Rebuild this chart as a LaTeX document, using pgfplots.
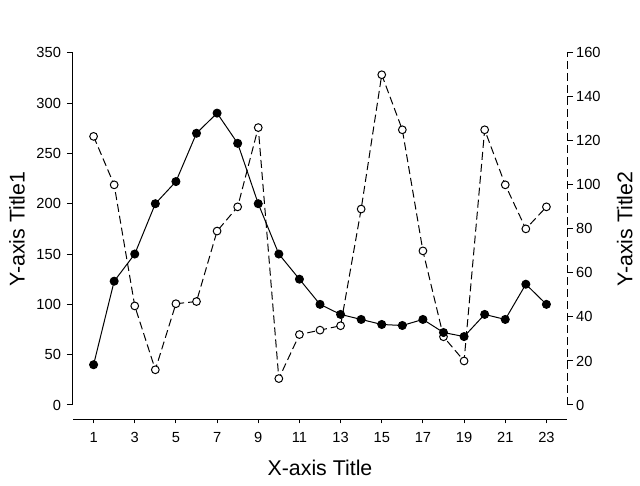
\documentclass[border=0pt]{standalone}
\usepackage{fontspec}
\setmainfont{Liberation Sans}
\usepackage{pgfplots}
\pgfplotsset{compat=1.18}
\begin{document}
\begin{tikzpicture}
\path[use as bounding box] (0,0) rectangle (480pt,364.5pt);
\pgfplotsset{common/.style={scale only axis, width=370.5pt, height=264.2pt,
  xmin=0, xmax=24, at={(54.75pt,60.75pt)}, anchor=south west,
  /pgf/number format/assume math mode=true,
  tick label style={font=\fontsize{11}{13}\selectfont},
  major tick length=4.5pt, tick style={black, line width=0.75pt},
  axis x line=none, clip=false}}
% right axis (open circles, dashed)
\begin{axis}[common, ymin=0, ymax=160, ytick={0,20,...,160},
  axis y line=right, tick align=outside,
  y axis line style={-, line width=0.75pt, dash pattern=on 6pt off 3pt},
  yticklabel style={xshift=-1.2pt},
  ylabel={Y-axis Title2},
  ylabel style={at={(axis description cs:1.117,0.5)}, anchor=center, rotate=0,
    font=\fontsize{16}{19}\selectfont}]
\addplot[black, line width=0.75pt, dash pattern=on 6pt off 3pt, mark=*, mark size=2.9pt,
  mark options={solid, fill=white, line width=0.75pt}]
  coordinates {(1,122)(2,100)(3,45)(4,16)(5,46)(6,47)(7,79)(8,90)(9,126)(10,12)
  (11,32)(12,34)(13,36)(14,89)(15,150)(16,125)(17,70)(18,31)(19,20)(20,125)
  (21,100)(22,80)(23,90)};
\end{axis}
% left axis (filled circles, solid)
\begin{axis}[common, ymin=0, ymax=350, ytick={0,50,...,350},
  axis y line=left, tick align=outside, y axis line style={-, line width=0.75pt},
  yticklabel style={xshift=-1pt},
  ylabel={Y-axis Title1},
  ylabel style={at={(axis description cs:-0.1134,0.5)}, anchor=center,
    font=\fontsize{16}{19}\selectfont}]
\addplot[black, line width=0.75pt, mark=*, mark size=3pt,
  mark options={solid, fill=black}]
  coordinates {(1,40)(2,123)(3,150)(4,200)(5,222)(6,270)(7,290)(8,260)(9,200)(10,150)
  (11,125)(12,100)(13,90)(14,85)(15,80)(16,79)(17,85)(18,72)(19,68)(20,90)
  (21,85)(22,120)(23,100)};
\end{axis}
% x axis
\begin{axis}[scale only axis, width=370.5pt, height=10pt, at={(54.75pt,50pt)}, anchor=south west,
  xmin=0, xmax=24, ymin=0, ymax=1, axis x line=bottom, axis y line=none,
  x axis line style={-, line width=0.75pt},
  xtick={1,3,...,23}, tick align=outside, major tick length=3pt,
  tick style={black, line width=0.75pt},
  /pgf/number format/assume math mode=true,
  tick label style={font=\fontsize{11}{13}\selectfont},
  xticklabel style={yshift=-3pt},
  xlabel={X-axis Title},
  xlabel style={at={(axis description cs:0.5,-3.65)}, anchor=center,
    font=\fontsize{16}{19}\selectfont}]
\addplot[draw=none] coordinates {(1,0)};
\end{axis}
\end{tikzpicture}
\end{document}
